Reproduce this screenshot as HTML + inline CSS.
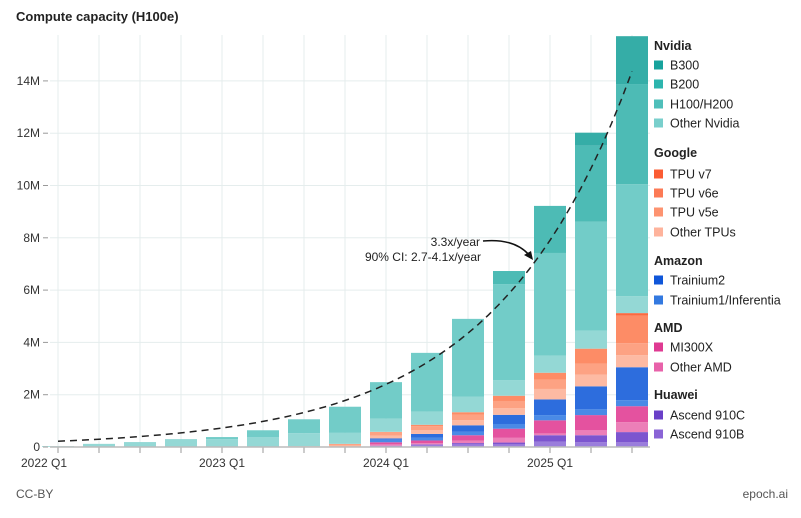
<!DOCTYPE html>
<html><head><meta charset="utf-8"><style>
html,body{margin:0;padding:0;background:#fff;}
body{width:801px;height:513px;overflow:hidden;font-family:"Liberation Sans",sans-serif;}
</style></head><body>
<svg id="chart" width="801" height="513" xmlns="http://www.w3.org/2000/svg" font-family="Liberation Sans, sans-serif">
<text x="16" y="21" font-size="13" font-weight="bold" fill="#222">Compute capacity (H100e)</text>
<g id="grid"></g><g id="bars"></g><g id="axes"></g><g id="trend"></g>
<g>
<text x="480" y="246" font-size="12" text-anchor="end" fill="#222">3.3x/year</text>
<text x="481" y="261" font-size="12" text-anchor="end" fill="#222">90% CI: 2.7-4.1x/year</text>
<path d="M483,241 Q515,238 530,256" fill="none" stroke="#111" stroke-width="1.5"/>
<path d="M533,260 L524,255 L531,251 Z" fill="#111"/>
</g>
<g id="legend"></g>
<text x="16" y="498" font-size="12" fill="#555">CC-BY</text>
<text x="788" y="498" font-size="12" fill="#555" text-anchor="end">epoch.ai</text>
</svg>
<script>
const quarters=["2022 Q1","2022 Q2","2022 Q3","2022 Q4","2023 Q1","2023 Q2","2023 Q3","2023 Q4","2024 Q1","2024 Q2","2024 Q3","2024 Q4","2025 Q1","2025 Q2","2025 Q3"];
const yTicks=[0,2,4,6,8,10,12,14];
const yTickLabels=["0","2M","4M","6M","8M","10M","12M","14M"];
const xTickLabels=["2022 Q1","2023 Q1","2024 Q1","2025 Q1"];
const seriesNames=["Ascend 910B","Ascend 910C","Other AMD","MI300X","Trainium1/Inferentia","Trainium2","Other TPUs","TPU v5e","TPU v6e","TPU v7","Other Nvidia","H100/H200","B200","B300"];
const ascend910B=[0,0,0,0,0,0,0,0,.05,.08,.1,.1,.2,.18,.19];
const ascend910C=[0,0,0,0,0,0,0,0,0,.02,.05,.07,.25,.27,.38];
const otherAMD=[0,0,0,0,0,0,0,0,.05,.05,.1,.18,.07,.2,.38];
const mi300x=[0,0,0,0,0,0,0,0,.08,.1,.2,.35,.5,.57,.61];
const trainium1=[0,0,0,0,0,0,0,0,.1,.1,.13,.18,.2,.22,.23];
const trainium2=[0,0,0,0,0,0,0,0,.05,.15,.25,.35,.6,.88,1.26];
const otherTPUs=[0,0,0,0,0,0,.03,.06,.1,.15,.2,.25,.4,.45,.46];
const tpuV5e=[0,0,0,0,0,0,0,.06,.15,.15,.2,.28,.35,.42,.46];
const tpuV6e=[0,0,0,0,0,0,0,0,0,.05,.1,.2,.27,.57,1.05];
const tpuV7=[0,0,0,0,0,0,0,0,0,0,0,0,0,0,.1];
const otherNvidia=[.03,.12,.18,.28,.3,.37,.5,.42,.5,.5,.6,.6,.65,.69,.65];
const h100=[0,0,.01,.02,.08,.27,.53,1.0,1.4,2.25,2.97,3.67,3.93,4.17,4.28];
const b200=[0,0,0,0,0,0,0,0,0,0,0,.5,1.8,2.9,3.83];
const b300=[0,0,0,0,0,0,0,0,0,0,0,0,0,.5,1.83];
const trendStart=0.22, trendGrowth=3.3;
const seriesValues=[ascend910B,ascend910C,otherAMD,mi300x,trainium1,trainium2,otherTPUs,tpuV5e,tpuV6e,tpuV7,otherNvidia,h100,b200,b300];
const barColors=["#9a7ddc","#7c55cf","#ec7fb8","#e4529f","#4a8ae6","#2d6ddd","#fdbaa3","#fda283","#fd8c66","#fb6a40","#94d8d5","#72ccc8","#4dbbb5","#35ada7"];
const legendColors=["#8a64d6","#6a40c8","#e862aa","#df3a92","#3379e0","#0f56d9","#feb39c","#fd9370","#fc7a55","#fb5c33","#79cfcc","#4fbfba","#2db5ae","#17a39d"];
const NS="http://www.w3.org/2000/svg";
const x0=58, dx=41, y0=447, pxPerM=26.15, barW=32, plotTop=35;
function xScale(i){return x0+i*dx;}
function yScale(v){return y0-v*pxPerM;}
function mk(tag,attrs,parent){const e=document.createElementNS(NS,tag);for(const k in attrs)e.setAttribute(k,attrs[k]);parent.appendChild(e);return e;}
const grid=document.getElementById('grid'),bars=document.getElementById('bars'),axes=document.getElementById('axes'),trend=document.getElementById('trend'),legend=document.getElementById('legend');
yTicks.forEach((t,i)=>{
 if(t>0){const l=mk('line',{x1:50,x2:650,y1:yScale(t),y2:yScale(t),stroke:'#e5eded','stroke-width':1},grid);
 
 }
 const tk=mk('line',{x1:43,x2:48,y1:yScale(t),y2:yScale(t),stroke:'#999'},axes);
 
 
 const tx=mk('text',{x:40,y:yScale(t)+4,'font-size':12,'text-anchor':'end',fill:'#333'},axes);tx.textContent=yTickLabels[i];
 
 
});
quarters.forEach((q,i)=>{
 const g=mk('line',{x1:xScale(i),x2:xScale(i),y1:plotTop,y2:y0,stroke:'#e5eded'},grid);
 
 
 let acc=0;
 seriesValues.forEach((s,k)=>{const v=s[i];if(v<=0)return;
  const r=mk('rect',{x:xScale(i)-barW/2,y:yScale(acc+v),width:barW,height:v*pxPerM,fill:barColors[k]},bars);
  
  
  acc+=v;});
 const tk=mk('line',{x1:xScale(i),x2:xScale(i),y1:y0,y2:y0+6,stroke:'#999'},axes);
 
 
 const li=xTickLabels.indexOf(q);
 if(li>=0){const tx=mk('text',{x:i===0?xScale(i)-14:xScale(i),y:467,'font-size':12,'text-anchor':'middle',fill:'#333'},axes);tx.textContent=q;
 
 }
});
const base=mk('line',{x1:50,x2:650,y1:y0,y2:y0,stroke:'#bbb','stroke-width':1.5},axes);


let d='';for(let i=0;i<=56;i++){const q=i/4;d+=(i?'L':'M')+xScale(q).toFixed(1)+','+yScale(trendStart*Math.pow(trendGrowth,q/4)).toFixed(1);}
const tp=mk('path',{d:d,fill:'none',stroke:'#222','stroke-width':1.5,'stroke-dasharray':'7,5'},trend);


const legendItems=[["h","Nvidia",46],[13,"B300",65],[12,"B200",84],[11,"H100/H200",104],[10,"Other Nvidia",123],["h","Google",153],[9,"TPU v7",174],[8,"TPU v6e",193],[7,"TPU v5e",212],[6,"Other TPUs",232],["h","Amazon",261],[5,"Trainium2",280],[4,"Trainium1/Inferentia",300],["h","AMD",328],[3,"MI300X",347],[2,"Other AMD",367],["h","Huawei",395],[1,"Ascend 910C",415],[0,"Ascend 910B",434]];
legendItems.forEach(it=>{
 if(it[0]==="h"){const t=mk('text',{x:654,y:it[2]+4,'font-size':12.5,'font-weight':'bold',fill:'#222'},legend);t.textContent=it[1];
  
  }
 else{const g=mk('g',{},legend);
  
  
  mk('rect',{x:654,y:it[2]-4.5,width:9,height:9,fill:legendColors[it[0]]},g);
  const t=mk('text',{x:670,y:it[2]+4.5,'font-size':12.5,fill:'#222'},g);t.textContent=it[1];}
});
</script>
</body></html>
